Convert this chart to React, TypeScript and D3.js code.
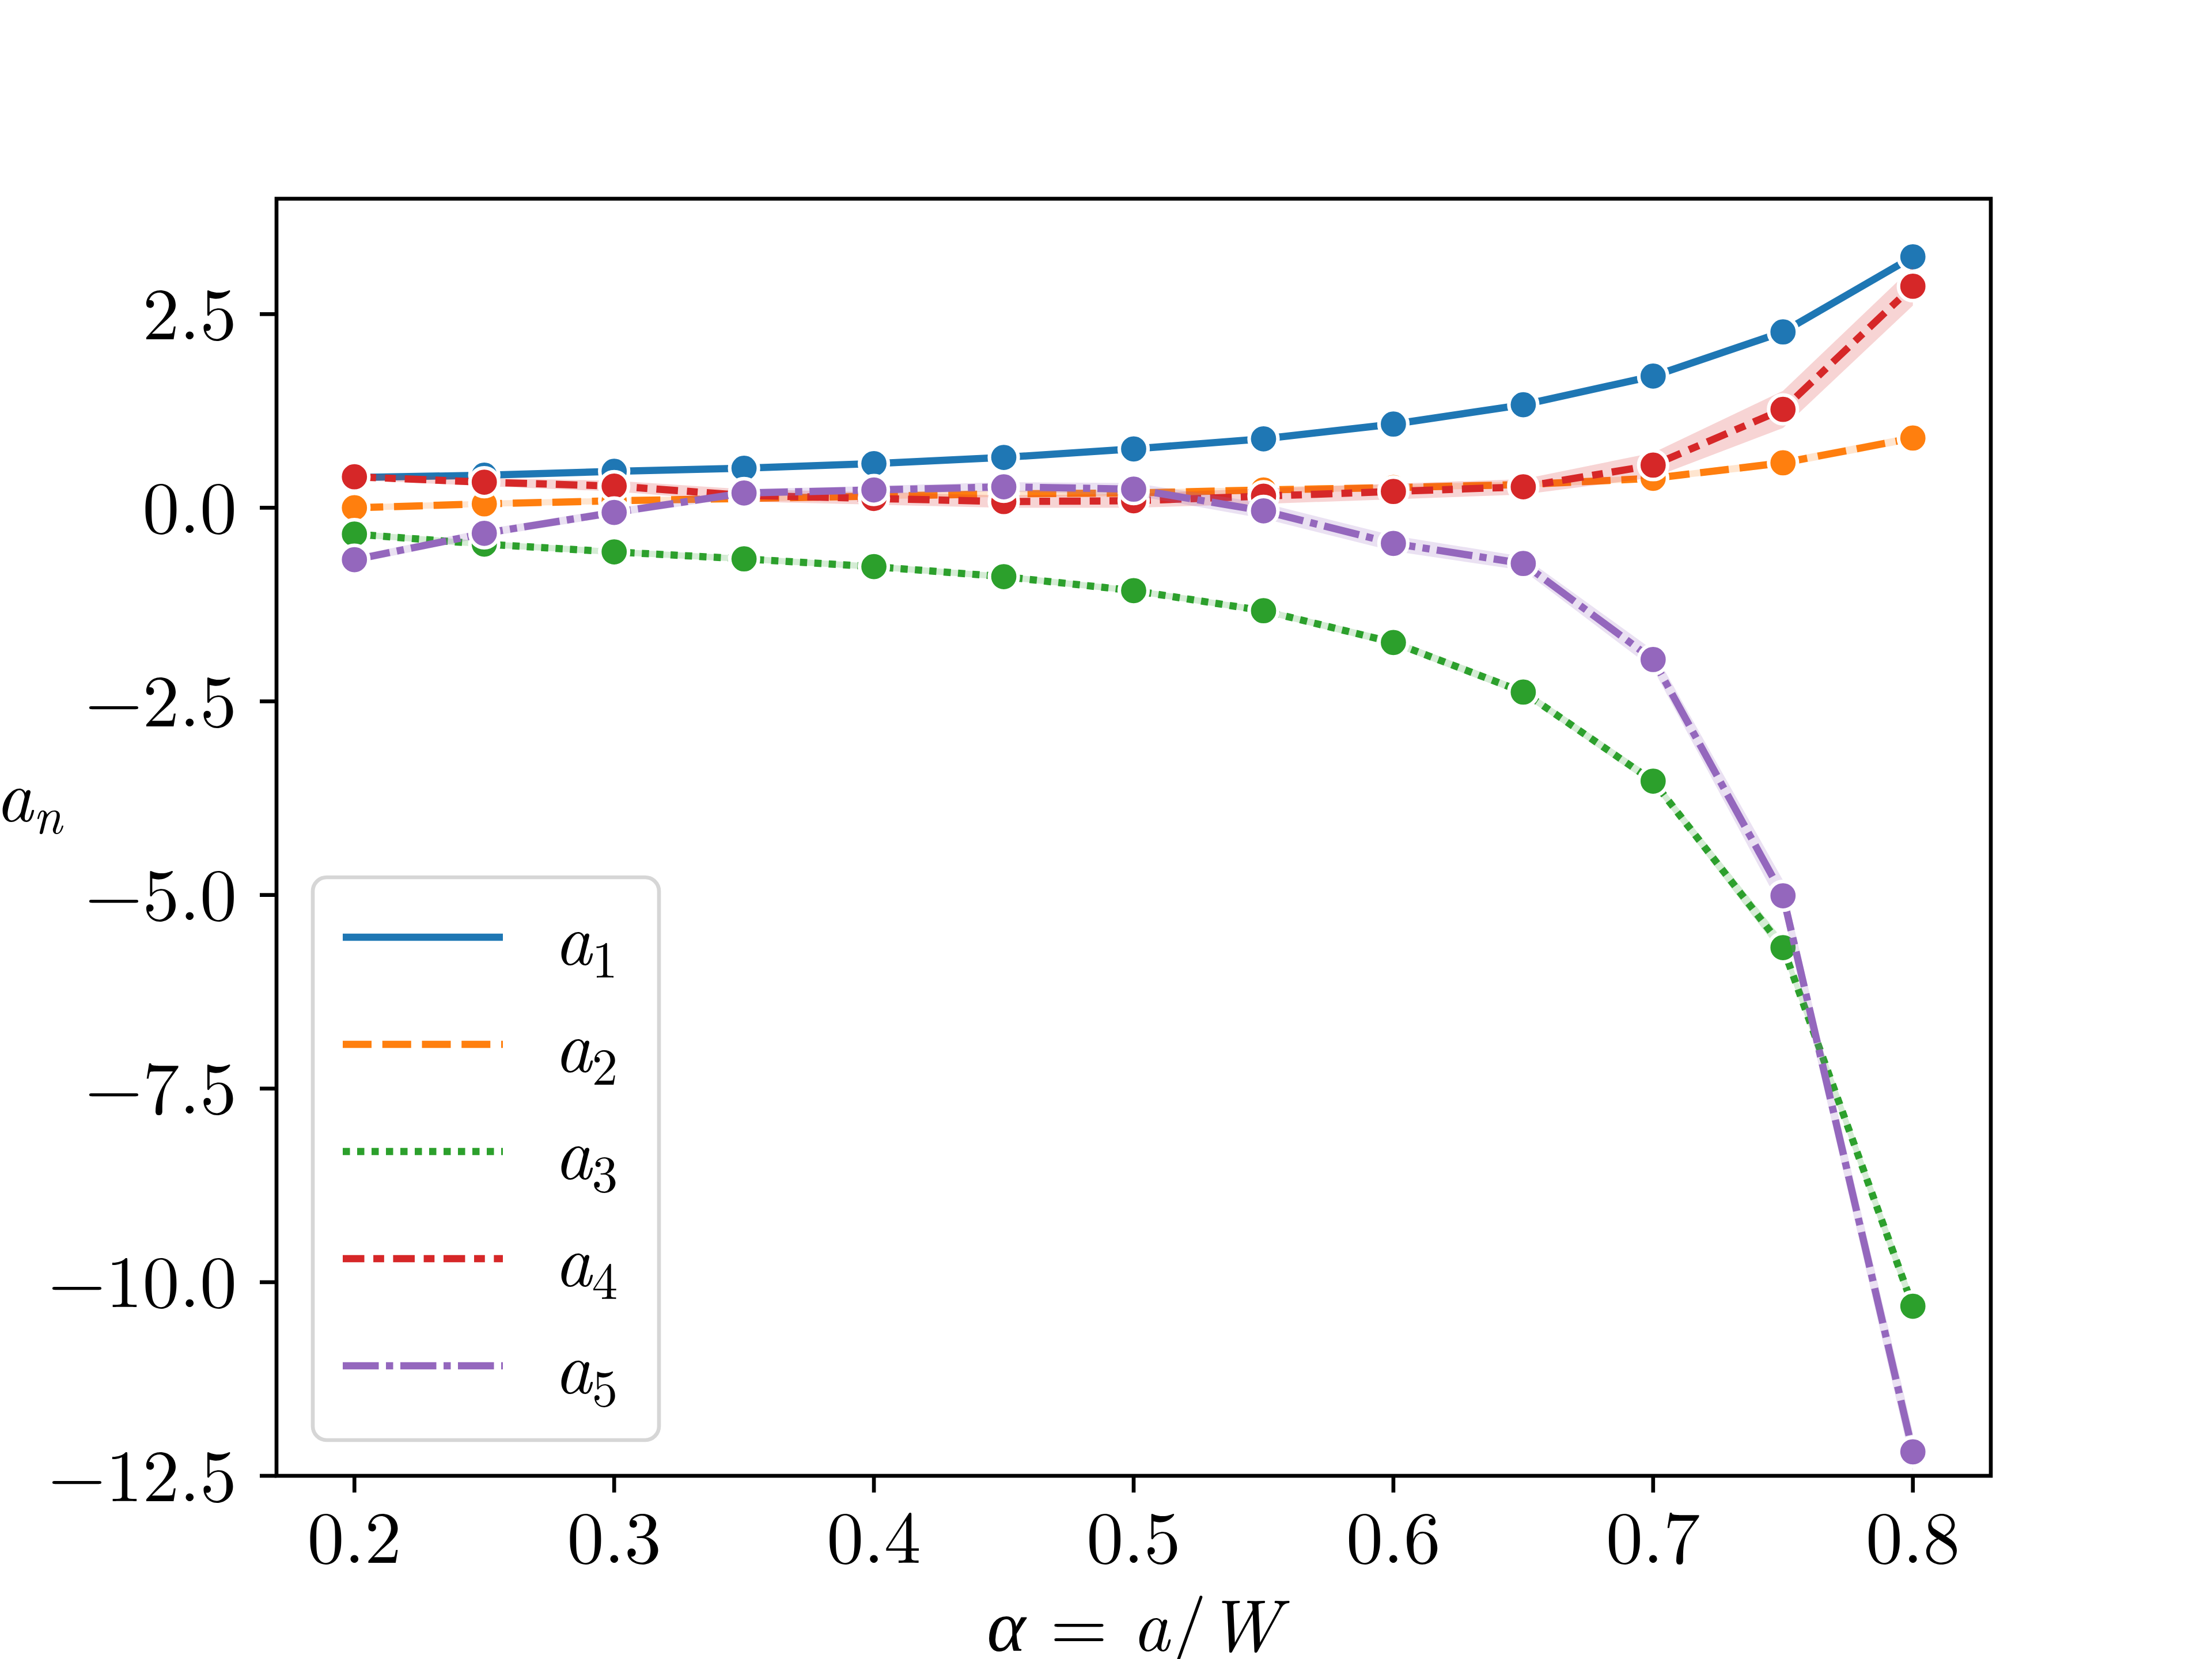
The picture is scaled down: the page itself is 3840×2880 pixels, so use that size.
import React from "react";
import * as d3 from "d3";

const X = [0.2, 0.25, 0.3, 0.35, 0.4, 0.45, 0.5, 0.55, 0.6, 0.65, 0.7, 0.75, 0.8];
const A1 = [0.39, 0.42, 0.47, 0.51, 0.57, 0.65, 0.76, 0.89, 1.08, 1.33, 1.7, 2.27, 3.24];
const A2 = [0.0, 0.05, 0.09, 0.12, 0.15, 0.18, 0.19, 0.23, 0.26, 0.3, 0.38, 0.58, 0.9];
const A3 = [-0.34, -0.47, -0.57, -0.66, -0.76, -0.89, -1.07, -1.33, -1.74, -2.38, -3.53, -5.68, -10.31];
const A4 = [0.4, 0.33, 0.28, 0.16, 0.12, 0.08, 0.09, 0.15, 0.21, 0.27, 0.55, 1.27, 2.86];
const A5 = [-0.67, -0.33, -0.06, 0.19, 0.23, 0.27, 0.24, -0.04, -0.46, -0.72, -1.96, -5.01, -12.19];

// half-widths of the confidence bands
const B1 = [0.02, 0.02, 0.02, 0.02, 0.02, 0.02, 0.02, 0.02, 0.02, 0.02, 0.03, 0.03, 0.04];
const B2 = [0.04, 0.04, 0.04, 0.04, 0.04, 0.04, 0.04, 0.04, 0.04, 0.04, 0.04, 0.05, 0.05];
const B3 = [0.04, 0.04, 0.04, 0.04, 0.04, 0.04, 0.04, 0.04, 0.05, 0.05, 0.06, 0.1, 0.12];
const B4 = [0.04, 0.05, 0.07, 0.08, 0.08, 0.08, 0.09, 0.1, 0.1, 0.1, 0.16, 0.24, 0.25];
const B5 = [0.05, 0.05, 0.05, 0.05, 0.05, 0.06, 0.08, 0.1, 0.1, 0.09, 0.12, 0.2, 0.25];

const SUBS = ["1", "2", "3", "4", "5"];
const COLORS = ["#1f77b4", "#ff7f0e", "#2ca02c", "#d62728", "#9467bd"];
const DASHES = ["", "50,18.75", "12.5,12.5", "37.5,15.6,18.75,15.6", "62.5,12.5,12.5,12.5"];

const X_TICKS = [0.2, 0.3, 0.4, 0.5, 0.6, 0.7, 0.8];
const Y_TICKS = [2.5, 0, -2.5, -5, -7.5, -10, -12.5];

const W = 3840;
const H = 2880;
const L = 480, R = 3456, T = 345, B = 2562;
const FONT = "'Latin Modern Roman', 'CMU Serif', 'Liberation Serif', serif";
const FS = 128;

export default function App() {
  const x = d3.scaleLinear().domain([0.17, 0.83]).range([L, R]);
  const y = d3.scaleLinear().domain([-12.5, 3.99]).range([B, T]);
  const series = [A1, A2, A3, A4, A5];
  const bands = [B1, B2, B3, B4, B5];
  const line = d3.line<number>().x((_, i) => x(X[i])).y((v) => y(v));

  const fmt = (v: number) => {
    const s = Math.abs(v).toFixed(1);
    return v < 0 ? "\u2212" + s : s;
  };

  const legX = 543, legY = 1523, legW = 601, legH = 977;
  const rowY = [1627, 1813, 1999, 2185, 2371];

  return (
    <svg width={W} height={H} viewBox={`0 0 ${W} ${H}`}
      style={{ position: "absolute", left: 0, top: 0, background: "#fff" }}
      fontFamily={FONT}>
      <rect x={0} y={0} width={W} height={H} fill="#fff" />
      <defs>
        <clipPath id="plotclip">
          <rect x={L} y={T} width={R - L} height={B - T} />
        </clipPath>
      </defs>
      <g clipPath="url(#plotclip)">
        {series.map((s, k) => {
          const area = d3.area<number>()
            .x((_, i) => x(X[i]))
            .y0((v, i) => y(v - bands[k][i]))
            .y1((v, i) => y(v + bands[k][i]));
          return (
            <g key={k}>
              <path d={line(s) || ""} fill="none" stroke={COLORS[k]} strokeWidth={12.5}
                strokeDasharray={DASHES[k] || undefined} />
              <path d={area(s) || ""} fill={COLORS[k]} fillOpacity={0.2} stroke="none" />
              {s.map((v, i) => (
                <circle key={i} cx={x(X[i])} cy={y(v)} r={25} fill={COLORS[k]}
                  stroke="#fff" strokeWidth={6.25} />
              ))}
            </g>
          );
        })}
      </g>
      {/* spines */}
      <rect x={L} y={T} width={R - L} height={B - T} fill="none" stroke="#000" strokeWidth={6.67} />
      {/* x ticks */}
      {X_TICKS.map((t) => (
        <g key={t}>
          <line x1={x(t)} x2={x(t)} y1={B} y2={B + 29} stroke="#000" strokeWidth={6.67} />
          <text x={x(t)} y={2713} textAnchor="middle" fontSize={FS}>{t.toFixed(1)}</text>
        </g>
      ))}
      {/* y ticks */}
      {Y_TICKS.map((t) => (
        <g key={t}>
          <line x1={L - 29} x2={L} y1={y(t)} y2={y(t)} stroke="#000" strokeWidth={6.67} />
          <text x={411} y={y(t)} dy="0.34em" textAnchor="end" fontSize={FS}>{fmt(t)}</text>
        </g>
      ))}
      {/* axis labels */}
      <text x={(L + R) / 2} y={2866} textAnchor="middle" fontSize={FS}>
        <tspan fontStyle="italic">α</tspan>
        <tspan> = </tspan>
        <tspan fontStyle="italic">a</tspan>
        <tspan>/</tspan>
        <tspan fontStyle="italic">W</tspan>
      </text>
      <text x={-8} y={1426} fontSize={FS}>
        <tspan fontStyle="italic">a</tspan>
        <tspan fontStyle="italic" fontSize={FS * 0.7} dy={21}>n</tspan>
      </text>
      {/* legend */}
      <rect x={legX} y={legY} width={legW} height={legH} rx={24} ry={24}
        fill="#fff" fillOpacity={0.8} stroke="#d6d6d6" strokeWidth={6.67} />
      {SUBS.map((s, k) => (
        <g key={s}>
          <line x1={595} x2={873} y1={rowY[k]} y2={rowY[k]} stroke={COLORS[k]} strokeWidth={12.5}
            strokeDasharray={DASHES[k] || undefined} />
          <text x={962} y={rowY[k] + 48} fontSize={FS}>
            <tspan fontStyle="italic">a</tspan>
            <tspan fontSize={FS * 0.7} dy={22}>{s}</tspan>
          </text>
        </g>
      ))}
    </svg>
  );
}
